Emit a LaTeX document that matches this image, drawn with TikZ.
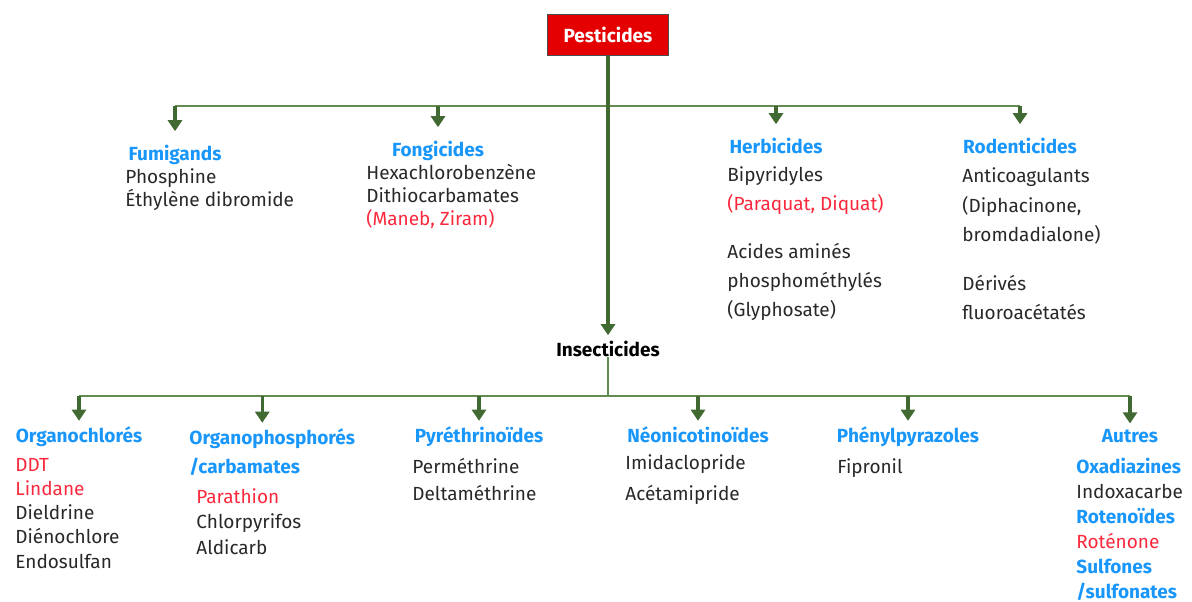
\documentclass[tikz,border=0pt]{standalone}
\usepackage{fontspec}
\setmainfont{Fira Sans}
\usetikzlibrary{arrows.meta}
\definecolor{pestred}{RGB}{228,0,0}
\definecolor{catblue}{RGB}{25,150,250}
\definecolor{itemred}{RGB}{250,40,60}
\definecolor{itemgray}{RGB}{40,40,40}
\definecolor{linegreen}{RGB}{100,140,80}
\definecolor{arrowgreen}{RGB}{65,105,50}
\newcommand{\redtxt}[1]{\textcolor{itemred}{#1}}
\newcommand{\bluehead}[1]{\textcolor{catblue}{\bfseries #1}}
\begin{document}
\begin{tikzpicture}[x=0.5pt,y=-0.5pt,
    every node/.style={font=\fontsize{9.5}{11.5}\selectfont,inner sep=0pt},
    cat/.style={font=\fontsize{9.5}{11.5}\selectfont\bfseries,text=catblue,anchor=base},
    items/.style={align=left,anchor=base west,text=itemgray},
    bus/.style={draw=linegreen,line width=1pt},
    drop/.style={draw=arrowgreen,line width=1.7pt,-{Triangle[width=7pt,length=5.5pt]}}]
  \useasboundingbox (0,0) rectangle (1192,601);

  % Root and first level (list nodes sit on the baseline of their last line)
  \node[draw=black!70,line width=0.9pt,fill=pestred,text=white,font=\fontsize{9.5}{11.5}\selectfont\bfseries,
        minimum width=60.5pt,minimum height=20.5pt] (pest) at (608,35) {Pesticides};
  \coordinate (bus) at (608,106);

  \node[cat] (fum) at (175,160) {Fumigands};
  \node[items] (fum-list) at (125,206) {Phosphine\\Éthylène dibromide};

  \node[cat] (fon) at (438,156) {Fongicides};
  \node[items] (fon-list) at (366,225) {Hexachlorobenzène\\Dithiocarbamates\\\redtxt{(Maneb, Ziram)}};

  \node[cat] (her) at (776,153) {Herbicides};
  \node[items,font=\fontsize{9.5}{14.5}\selectfont] (her-list) at (727,316)
    {Bipyridyles\\\redtxt{(Paraquat, Diquat)}\\[9.5pt]Acides aminés\\phosphométhylés\\(Glyphosate)};

  \node[cat] (rod) at (1020,153) {Rodenticides};
  \node[items,font=\fontsize{9.5}{14.75}\selectfont] (rod-list) at (962,319.5)
    {Anticoagulants\\(Diphacinone,\\bromdadialone)\\[9.5pt]Dérivés\\fluoroacétatés};

  \node[font=\fontsize{9.5}{11.5}\selectfont\bfseries,anchor=base] (ins) at (608,356) {Insecticides};
  \coordinate (bus2) at (608,396);

  % Insecticide families
  \node[cat] (org) at (79,442) {Organochlorés};
  \node[items,font=\fontsize{9.5}{12.1}\selectfont] (org-list) at (15,568)
    {\redtxt{DDT}\\\redtxt{Lindane}\\Dieldrine\\Diénochlore\\Endosulfan};

  \node[cat,align=left,anchor=base west,font=\fontsize{9.5}{14.5}\selectfont\bfseries] (oph) at (189,473)
    {Organophosphorés\\/carbamates};
  \node[items,font=\fontsize{9.5}{12.75}\selectfont] (oph-list) at (196,554)
    {\redtxt{Parathion}\\Chlorpyrifos\\Aldicarb};

  \node[cat] (pyr) at (479,442) {Pyréthrinoïdes};
  \node[items,font=\fontsize{9.5}{13.5}\selectfont] (pyr-list) at (412,500) {Perméthrine\\Deltaméthrine};

  \node[cat] (neo) at (698,442) {Néonicotinoïdes};
  \node[items,font=\fontsize{9.5}{15.5}\selectfont] (neo-list) at (625,500) {Imidaclopride\\Acétamipride};

  \node[cat] (phe) at (908,442) {Phénylpyrazoles};
  \node[items] (phe-list) at (837,473) {Fipronil};

  \node[cat] (aut) at (1130,442) {Autres};
  \node[items,font=\fontsize{9.5}{12.5}\selectfont] (aut-list) at (1076,598)
    {\bluehead{Oxadiazines}\\Indoxacarbe\\\bluehead{Rotenoïdes}\\\redtxt{Roténone}\\\bluehead{Sulfones}\\\bluehead{/sulfonates}};

  % Connectors, first level
  \draw[bus] (fum.north |- bus) -- (rod.north |- bus);
  \draw[drop,shorten >=6.5pt] (fum.north |- bus) -- (fum.north);
  \draw[drop,shorten >=6.5pt] (fon.north |- bus) -- (fon.north);
  \draw[drop,shorten >=6.5pt] (her.north |- bus) -- (her.north);
  \draw[drop,shorten >=6.5pt] (rod.north |- bus) -- (rod.north);
  \draw[drop,shorten >=2.5pt] (pest.south) -- (ins.north);

  % Connectors, insecticides
  \draw[bus] (ins.south) -- (bus2);
  \draw[bus] (org.north |- bus2) -- (aut.north |- bus2);
  \draw[drop,shorten >=2.5pt] (org.north |- bus2) -- (org.north);
  \draw[drop,shorten >=2.5pt] ([xshift=-5pt]oph.north |- bus2) -- ([xshift=-5pt]oph.north);
  \draw[drop,shorten >=2.5pt] (pyr.north |- bus2) -- (pyr.north);
  \draw[drop,shorten >=2.5pt] (neo.north |- bus2) -- (neo.north);
  \draw[drop,shorten >=2.5pt] (phe.north |- bus2) -- (phe.north);
  \draw[drop,shorten >=2.5pt] (aut.north |- bus2) -- (aut.north);
\end{tikzpicture}
\end{document}
